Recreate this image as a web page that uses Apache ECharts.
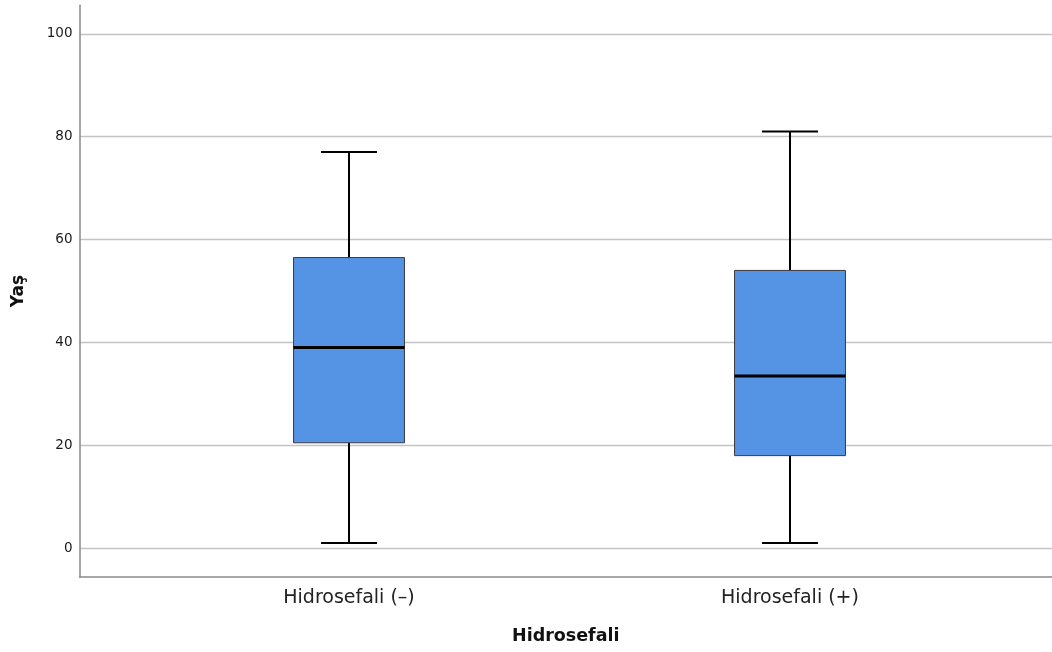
<!DOCTYPE html>
<html>
<head>
<meta charset="utf-8">
<script src="https://cdn.jsdelivr.net/npm/echarts@6/dist/echarts.min.js"></script>
<style>
html,body{margin:0;padding:0;background:#fff;}
#chart{width:1052px;height:652px;}
</style>
</head>
<body>
<div id="chart"></div>
<script>
const categories = ['Hidrosefali (–)', 'Hidrosefali (+)'];
const whiskerLow = [1, 1];
const q1 = [20.5, 18];
const median = [39, 33.5];
const q3 = [56.5, 54];
const whiskerHigh = [77, 81];
const yTicks = [0, 20, 40, 60, 80, 100];

const FONT = 'DejaVu Sans';
const Y_MIN = -5.53, Y_MAX = 105.53;

const boxData = categories.map((c, i) => [i, whiskerLow[i], q1[i], median[i], q3[i], whiskerHigh[i]]);

const chart = echarts.init(document.getElementById('chart'), null, {renderer: 'canvas'});

function renderBox(params, api) {
  const idx = api.value(0);
  const band = api.size([1, 0])[0];
  const cx = api.coord([idx, 0])[0];
  const yLo = api.coord([idx, api.value(1)])[1];
  const yQ1 = api.coord([idx, api.value(2)])[1];
  const yMed = api.coord([idx, api.value(3)])[1];
  const yQ3 = api.coord([idx, api.value(4)])[1];
  const yHi = api.coord([idx, api.value(5)])[1];
  const bw = band * 0.2515;
  const cw = band * 0.127;
  const lineStyle = {stroke: '#000', lineWidth: 2};
  return {
    type: 'group',
    children: [
      {type: 'line', shape: {x1: cx, y1: yHi, x2: cx, y2: yQ3}, style: lineStyle},
      {type: 'line', shape: {x1: cx, y1: yQ1, x2: cx, y2: yLo}, style: lineStyle},
      {type: 'line', shape: {x1: cx - cw / 2, y1: yHi, x2: cx + cw / 2, y2: yHi}, style: lineStyle},
      {type: 'line', shape: {x1: cx - cw / 2, y1: yLo, x2: cx + cw / 2, y2: yLo}, style: lineStyle},
      {type: 'rect', shape: {x: cx - bw / 2, y: yQ3, width: bw, height: yQ1 - yQ3},
        style: {fill: '#5593e4', stroke: '#3a3a3a', lineWidth: 1}},
      {type: 'line', shape: {x1: cx - bw / 2, y1: yMed, x2: cx + bw / 2, y2: yMed},
        style: {stroke: '#000', lineWidth: 3}}
    ]
  };
}

const option = {
  backgroundColor: '#fff',
  animation: false,
  grid: [
    {left: 79.5, right: 0, top: 5.3, bottom: 75.3, containLabel: false},
    {left: 128.5, right: 41.5, top: 5.3, bottom: 75.3, containLabel: false}
  ],
  xAxis: [
    {
      gridIndex: 0, type: 'value', min: 0, max: 1,
      axisLine: {show: true, onZero: false, lineStyle: {color: '#8a8a8a', width: 1.5}},
      axisTick: {show: false}, axisLabel: {show: false}, splitLine: {show: false},
      name: 'Hidrosefali', nameLocation: 'middle', nameGap: 51,
      nameTextStyle: {fontFamily: FONT, fontSize: 17.5, fontWeight: 'bold', color: '#111'}
    },
    {
      gridIndex: 1, type: 'category', data: categories,
      axisLine: {show: false}, axisTick: {show: false}, splitLine: {show: false},
      axisLabel: {fontFamily: FONT, fontSize: 19, color: '#222', margin: 12}
    }
  ],
  yAxis: [
    {
      gridIndex: 0, type: 'value', min: Y_MIN, max: Y_MAX,
      axisLine: {show: true, onZero: false, lineStyle: {color: '#8a8a8a', width: 1.5}},
      axisTick: {show: false, customValues: yTicks},
      axisLabel: {customValues: yTicks, fontFamily: FONT, fontSize: 13.5, color: '#1a1a1a', margin: 7},
      splitLine: {show: true, lineStyle: {color: '#c4c4c4', width: 1.3}},
      name: 'Yaş', nameLocation: 'middle', nameGap: 52, nameRotate: 90,
      nameTextStyle: {fontFamily: FONT, fontSize: 17, fontWeight: 'bold', color: '#111'}
    },
    {
      gridIndex: 1, type: 'value', min: Y_MIN, max: Y_MAX, show: false,
      splitLine: {show: false}
    }
  ],
  series: [
    {
      type: 'custom', xAxisIndex: 1, yAxisIndex: 1,
      renderItem: renderBox,
      encode: {x: 0, y: [1, 2, 3, 4, 5]},
      data: boxData,
      clip: false
    }
  ]
};
chart.setOption(option);
</script>
</body>
</html>
